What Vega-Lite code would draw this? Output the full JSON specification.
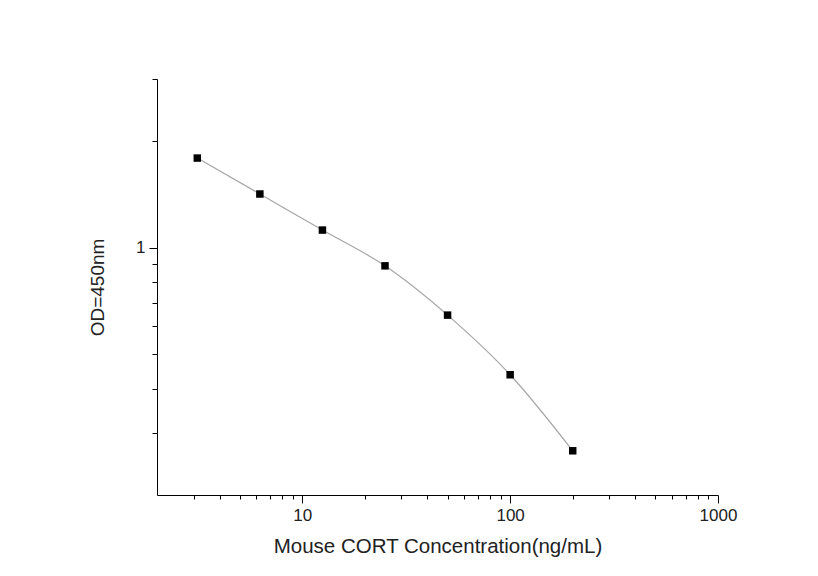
{
  "$schema": "https://vega.github.io/schema/vega-lite/v6.json",
  "width": 561,
  "height": 416,
  "autosize": {"type": "none"},
  "padding": {"left": 157, "top": 79, "right": 100, "bottom": 81},
  "background": "white",
  "config": {
    "view": {"stroke": null},
    "font": "Liberation Sans",
    "axis": {
      "grid": false,
      "domainColor": "#000000",
      "domainWidth": 1,
      "tickColor": "#000000",
      "tickWidth": 1,
      "labelColor": "#222222",
      "titleColor": "#222222",
      "labelFont": "Liberation Sans",
      "titleFont": "Liberation Sans",
      "titleFontWeight": "normal",
      "labelOverlap": false,
      "labelFlush": false
    }
  },
  "data": {
    "values": [
      {"conc": 3.125, "od": 1.793},
      {"conc": 6.25, "od": 1.419},
      {"conc": 12.5, "od": 1.122},
      {"conc": 25, "od": 0.889},
      {"conc": 50, "od": 0.645},
      {"conc": 100, "od": 0.4375},
      {"conc": 200, "od": 0.2667}
    ]
  },
  "encoding": {
    "x": {
      "field": "conc",
      "type": "quantitative",
      "scale": {"type": "log", "domain": [2, 1000], "nice": false},
      "axis": {
        "title": "Mouse CORT Concentration(ng/mL)",
        "titleFontSize": 20.5,
        "titlePadding": 13,
        "labelFontSize": 17,
        "labelPadding": 4,
        "tickCount": 200,
        "values": [3, 4, 5, 6, 7, 8, 9, 10, 20, 30, 40, 50, 60, 70, 80, 90, 100, 200, 300, 400, 500, 600, 700, 800, 900, 1000],
        "labelExpr": "(datum.value == 10 || datum.value == 100 || datum.value == 1000) ? format(datum.value, 'd') : ''",
        "tickSize": {"condition": {"test": "datum.value == 10 || datum.value == 100 || datum.value == 1000", "value": 8}, "value": 4}
      }
    },
    "y": {
      "field": "od",
      "type": "quantitative",
      "scale": {"type": "log", "domain": [0.2, 3], "nice": false},
      "axis": {
        "title": "OD=450nm",
        "titleFontSize": 19,
        "titlePadding": 28,
        "labelFontSize": 17,
        "labelPadding": 4,
        "tickCount": 200,
        "values": [0.3, 0.4, 0.5, 0.6, 0.7, 0.8, 0.9, 1, 2, 3],
        "labelExpr": "datum.value == 1 ? '1' : ''",
        "tickSize": {"condition": {"test": "datum.value == 1", "value": 8}, "value": 5}
      }
    }
  },
  "layer": [
    {
      "mark": {"type": "line", "interpolate": "monotone", "color": "#a6a6a6", "strokeWidth": 1.2}
    },
    {
      "mark": {"type": "point", "shape": "square", "filled": true, "color": "#000000", "opacity": 1, "size": 56}
    }
  ]
}
